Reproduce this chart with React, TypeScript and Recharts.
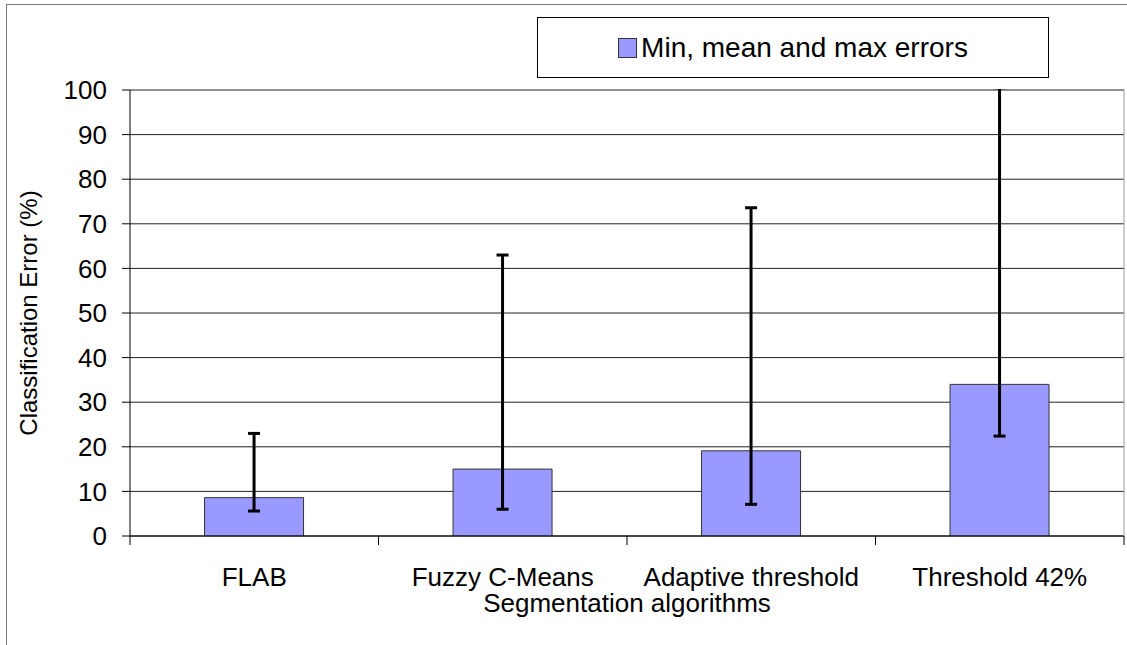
import React from 'react';
import { BarChart, Bar, XAxis, YAxis, CartesianGrid, ErrorBar, Legend } from 'recharts';

const categories = ['FLAB', 'Fuzzy C-Means', 'Adaptive threshold', 'Threshold 42%'];
const meanErrors = [8.6, 15.0, 19.1, 34.0];
const minErrors = [5.6, 6.0, 7.1, 22.4];
const maxErrors = [23.0, 63.0, 73.6, 100.5];
const yTicks = [0, 10, 20, 30, 40, 50, 60, 70, 80, 90, 100];

const data = categories.map((name, i) => ({
    name,
    mean: meanErrors[i],
    range: [meanErrors[i] - minErrors[i], maxErrors[i] - meanErrors[i]],
}));

const FONT = '"Liberation Sans", Arial, sans-serif';

// label under the axis, plus tick marks on the band edges (Excel style)
const CategoryTick = (props: any) => {
    const { x, y, payload, index, visibleTicksCount } = props;
    const half = payload && payload.offset ? payload.offset : 0;
    return (
        <g>
            <line x1={x - half} x2={x - half} y1={y} y2={y + 9} stroke="#000" />
            {index === visibleTicksCount - 1 && (
                <line x1={x + half} x2={x + half} y1={y} y2={y + 9} stroke="#000" />
            )}
            <text x={x} y={y + 50} textAnchor="middle" fontSize={26} fill="#000">
                {payload.value}
            </text>
        </g>
    );
};

const renderLegend = (props: any) => {
    const item = props.payload && props.payload[0];
    return (
        <div
            style={{
                width: 510,
                height: 59,
                border: '1px solid #000',
                background: '#fff',
                display: 'flex',
                alignItems: 'center',
                justifyContent: 'center',
                fontSize: 28,
                color: '#000',
            }}
        >
            <span
                style={{
                    display: 'inline-block',
                    width: 17,
                    height: 18,
                    background: item ? item.color : '#9999ff',
                    border: '1px solid #333',
                    marginRight: 4,
                }}
            />
            <span>{item ? item.value : ''}</span>
        </div>
    );
};

const App: React.FC = () => {
    return (
        <div style={{ position: 'absolute', left: 0, top: 0, width: 1127, height: 645, overflow: 'hidden', background: '#fff', fontFamily: FONT }}>
            {/* error bars running past the top get cut, like the original */}
            <style>{'.recharts-errorBar { clip-path: url(#errClip); }'}</style>
            {/* outer chart frame */}
            <div style={{ position: 'absolute', left: 6, top: 4, width: 1140, height: 660, border: '1px solid #777' }} />
            <div style={{ position: 'absolute', left: 0, top: 0 }}>
                <BarChart
                    width={1127}
                    height={645}
                    data={data}
                    margin={{ top: 90, right: 2, bottom: 0, left: 0 }}
                    barCategoryGap="30%"
                >
                    <defs>
                        <clipPath id="errClip">
                            <rect x={0} y={89} width={1127} height={556} />
                        </clipPath>
                    </defs>
                    <CartesianGrid yAxisId="left" vertical={false} stroke="#222" />
                    <XAxis
                        dataKey="name"
                        height={109}
                        axisLine={{ stroke: '#000' }}
                        tickLine={false}
                        tickSize={0}
                        tickMargin={0}
                        interval={0}
                        tick={<CategoryTick />}
                        label={{ value: 'Segmentation algorithms', position: 'insideBottom', offset: 33, fontSize: 26, fill: '#000' }}
                    />
                    <YAxis
                        yAxisId="left"
                        width={130}
                        domain={[0, 100]}
                        ticks={yTicks}
                        allowDataOverflow
                        axisLine={{ stroke: '#000' }}
                        tickLine={{ stroke: '#000' }}
                        tickSize={8}
                        tickMargin={15}
                        tick={{ fontSize: 26, fill: '#000' }}
                        label={(p: any) => {
                            const vb = p.viewBox || { x: 0, y: 90, height: 446 };
                            return (
                                <text
                                    transform={`translate(37, ${vb.y + vb.height / 2}) rotate(-90)`}
                                    textAnchor="middle"
                                    fontSize={24}
                                    fill="#000"
                                >
                                    Classification Error (%)
                                </text>
                            );
                        }}
                    />
                    <YAxis
                        yAxisId="right"
                        orientation="right"
                        width={1}
                        domain={[0, 100]}
                        tick={false}
                        tickLine={false}
                        axisLine={{ stroke: '#999' }}
                    />
                    <Legend
                        layout="horizontal"
                        verticalAlign="middle"
                        align="center"
                        content={renderLegend}
                        wrapperStyle={{ left: 537, top: 17, width: 512, height: 61 }}
                    />
                    <Bar
                        yAxisId="left"
                        dataKey="mean"
                        name="Min, mean and max errors"
                        fill="#9999ff"
                        stroke="#333"
                        strokeWidth={1}
                        isAnimationActive={false}
                    >
                        <ErrorBar dataKey="range" direction="y" width={6} strokeWidth={3} stroke="#000" isAnimationActive={false} />
                    </Bar>
                </BarChart>
            </div>
        </div>
    );
};

export default App;
